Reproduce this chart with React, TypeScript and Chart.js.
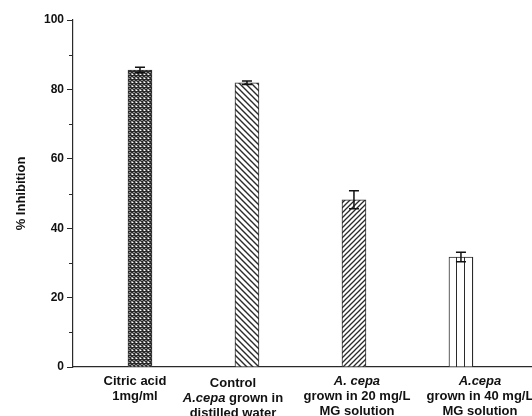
import React, { useEffect, useRef } from 'react';
import { Chart, registerables } from 'chart.js';

Chart.register(...registerables);

const categories = [
  'Citric acid 1mg/ml',
  'Control A.cepa grown in distilled water',
  'A. cepa grown in 20 mg/L MG solution',
  'A.cepa grown in 40 mg/L MG solution',
];
const positions = [1, 2, 3, 4];
const inhibition = [85.6, 81.9, 48.2, 31.7];
const errors = [0.8, 0.5, 2.6, 1.4];
const hatches = ['cross', 'back', 'fwd', 'vert'];

// label lines: each line is a list of [text, italic] segments
const labelLines: [string, boolean][][][] = [
  [[['Citric acid', false]], [['1mg/ml', false]]],
  [[['Control', false]], [['A.cepa', true], [' grown in', false]], [['distilled water', false]]],
  [[['A. cepa', true]], [['grown in 20 mg/L', false]], [['MG solution', false]]],
  [[['A.cepa', true]], [['grown in 40 mg/L', false]], [['MG solution', false]]],
];

const FONT = '"Liberation Sans", Arial, sans-serif';
const INK = '#2a2a2a';

function makePattern(kind: string): CanvasPattern | string {
  const c = document.createElement('canvas');
  const s = kind === 'vert' ? 8 : kind === 'back' ? 6 : kind === 'fwd' ? 5 : 4;
  c.width = s;
  c.height = s;
  const g = c.getContext('2d')!;
  g.fillStyle = '#fff';
  g.fillRect(0, 0, s, s);
  g.strokeStyle = INK;
  g.lineCap = 'square';
  if (kind === 'cross') {
    g.lineWidth = 1.5;
    g.beginPath();
    g.moveTo(-1, -1); g.lineTo(s + 1, s + 1);
    g.moveTo(s + 1, -1); g.lineTo(-1, s + 1);
    g.stroke();
  } else if (kind === 'back') {
    g.lineWidth = 1.4;
    g.beginPath();
    g.moveTo(-1, -1); g.lineTo(s + 1, s + 1);
    g.moveTo(-1, s - 1); g.lineTo(1, s + 1);
    g.moveTo(s - 1, -1); g.lineTo(s + 1, 1);
    g.stroke();
  } else if (kind === 'fwd') {
    g.lineWidth = 1.3;
    g.beginPath();
    g.moveTo(-1, s + 1); g.lineTo(s + 1, -1);
    g.moveTo(-1, 1); g.lineTo(1, -1);
    g.moveTo(s - 1, s + 1); g.lineTo(s + 1, s - 1);
    g.stroke();
  } else {
    g.lineWidth = 1;
    g.beginPath();
    g.moveTo(0.5, 0); g.lineTo(0.5, s);
    g.stroke();
  }
  return g.createPattern(c, 'repeat')!;
}

const errorBarPlugin = {
  id: 'errorBars',
  afterDatasetsDraw(chart: any) {
    const ctx = chart.ctx;
    const meta = chart.getDatasetMeta(0);
    const y = chart.scales.y;
    ctx.save();
    ctx.strokeStyle = '#111';
    ctx.lineWidth = 1.5;
    meta.data.forEach((bar: any, i: number) => {
      const x = bar.x;
      const top = y.getPixelForValue(inhibition[i] + errors[i]);
      const bot = y.getPixelForValue(inhibition[i] - errors[i]);
      const cap = 5;
      ctx.beginPath();
      ctx.moveTo(x, top); ctx.lineTo(x, bot);
      ctx.moveTo(x - cap, top); ctx.lineTo(x + cap, top);
      ctx.moveTo(x - cap, bot); ctx.lineTo(x + cap, bot);
      ctx.stroke();
    });
    ctx.restore();
  },
};

const xLabelPlugin = {
  id: 'xLabels',
  afterDraw(chart: any, _args: any, opts: any) {
    const ctx = chart.ctx;
    const xs = chart.scales.x;
    const bottom = chart.chartArea.bottom;
    const shift: number[] = opts.shift || [];
    const lh = 15;
    ctx.save();
    ctx.fillStyle = '#111';
    ctx.textBaseline = 'middle';
    ctx.textAlign = 'left';
    labelLines.forEach((lines, i) => {
      const cx = xs.getPixelForValue(positions[i]) + (shift[i] || 0);
      lines.forEach((segs, li) => {
        const widths = segs.map(([t, it]) => {
          ctx.font = `${it ? 'italic ' : ''}bold 13px ${FONT}`;
          return ctx.measureText(t).width;
        });
        const total = widths.reduce((a, b) => a + b, 0);
        let x = cx - total / 2;
        const yy = bottom + 14 + li * lh + (i === 1 ? 2 : 0);
        segs.forEach(([t, it], si) => {
          ctx.font = `${it ? 'italic ' : ''}bold 13px ${FONT}`;
          ctx.fillText(t, x, yy);
          x += widths[si];
        });
      });
    });
    ctx.restore();
  },
};

const minorTickPlugin = {
  id: 'minorTicks',
  afterDraw(chart: any) {
    const ctx = chart.ctx;
    const y = chart.scales.y;
    const left = chart.chartArea.left;
    ctx.save();
    ctx.strokeStyle = INK;
    ctx.lineWidth = 1;
    for (let v = 10; v < 100; v += 20) {
      const py = Math.round(y.getPixelForValue(v)) + 0.5;
      ctx.beginPath();
      ctx.moveTo(left - 4, py);
      ctx.lineTo(left, py);
      ctx.stroke();
    }
    ctx.restore();
  },
};

export default function App() {
  const ref = useRef<HTMLCanvasElement>(null);
  useEffect(() => {
    const chart = new Chart(ref.current!, {
      type: 'bar',
      data: {
        labels: categories,
        datasets: [
          {
            label: '% Inhibition',
            data: positions.map((p, i) => ({ x: p, y: inhibition[i] })),
            backgroundColor: hatches.map(makePattern) as any,
            borderColor: INK,
            borderWidth: 1,
            barThickness: 24,
          },
        ],
      },
      options: {
        animation: false,
        responsive: false,
        devicePixelRatio: 1,
        layout: { padding: { left: 10, top: 20, right: 0, bottom: 0 } },
        plugins: {
          legend: { display: false },
          tooltip: { enabled: false },
          xLabels: { shift: [-5, -14, 3, 19] },
        } as any,
        scales: {
          x: {
            type: 'linear',
            offset: false,
            min: 0.374,
            max: 4.664,
            grid: { display: false },
            border: { display: true, color: INK, width: 1.2 },
            ticks: { display: false },
            afterFit: (s: any) => { s.height = 49; },
          },
          y: {
            min: 0,
            max: 100,
            afterBuildTicks: (s: any) => {
              s.ticks = [0, 20, 40, 60, 80, 100].map((v) => ({ value: v }));
            },
            grid: {
              display: true,
              drawOnChartArea: false,
              drawTicks: true,
              tickLength: 6,
              color: INK,
              tickColor: INK,
            },
            border: { display: true, color: INK, width: 1.2 },
            ticks: {
              color: '#111',
              font: { family: FONT, size: 12, weight: 'bold' },
              padding: 3,
            },
            title: {
              display: true,
              text: '% Inhibition',
              color: '#111',
              font: { family: FONT, size: 13, weight: 'bold' },
              padding: { top: 4, bottom: 0 },
            },
            afterFit: (s: any) => { s.width = 63; },
          },
        },
      },
      plugins: [errorBarPlugin, xLabelPlugin, minorTickPlugin],
    } as any);
    return () => chart.destroy();
  }, []);
  return (
    <div style={{ position: 'fixed', left: 0, top: 0, width: 532, height: 416, background: '#fff' }}>
      <canvas ref={ref} width={532} height={416} style={{ display: 'block' }} />
    </div>
  );
}
